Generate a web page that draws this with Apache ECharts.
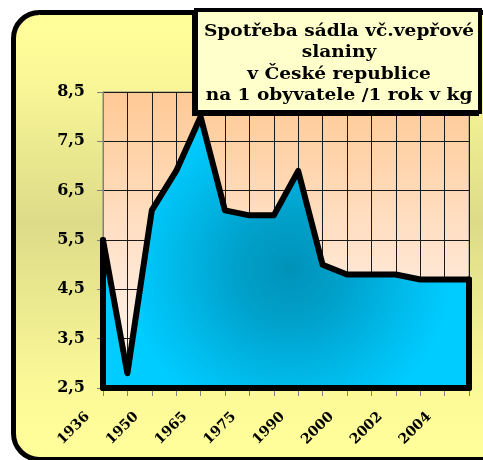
<!DOCTYPE html>
<html>
<head>
<meta charset="utf-8">
<script src="https://cdn.jsdelivr.net/npm/echarts@6/dist/echarts.min.js"></script>
<style>
html,body{margin:0;padding:0;background:#fff;}
#c{width:483px;height:460px;}
</style>
</head>
<body>
<div id="c"></div>
<script>
var categories = ['1936','1945','1950','1960','1965','1970','1975','1985','1990','1995','2000','2001','2002','2003','2004','2005'];
var values = [5.5, 2.8, 6.1, 6.9, 8.0, 6.1, 6.0, 6.0, 6.9, 5.0, 4.8, 4.8, 4.8, 4.7, 4.7, 4.7];
var yMin = 2.5, yMax = 8.5, yStep = 1;
var titleLines = ['Spotřeba sádla vč.vepřové', 'slaniny', 'v České republice', 'na 1 obyvatele /1 rok v kg'];

var chart = echarts.init(document.getElementById('c'), null, {renderer:'canvas'});
var serif = '"DejaVu Serif", "Liberation Serif", serif';
var last = categories.length - 1;

var option = {
  animation: false,
  backgroundColor: '#ffffff',
  graphic: [
    {
      type: 'rect', z: -10, silent: true,
      shape: {x: 13.5, y: 12.5, width: 560, height: 447, r: 26},
      style: {
        fill: new echarts.graphic.LinearGradient(0, 0, 0, 1, [
          {offset: 0, color: '#FFFF9A'},
          {offset: 0.12, color: '#FCFA98'},
          {offset: 0.47, color: '#DDDB88'},
          {offset: 0.85, color: '#FCFA98'},
          {offset: 1, color: '#FFFF9A'}
        ]),
        stroke: '#000', lineWidth: 5
      }
    },
    {
      type: 'rect', z: 100, silent: true,
      shape: {x: 192, y: 13, width: 287, height: 103},
      style: {fill: '#000'}
    },
    {
      type: 'rect', z: 101, silent: true,
      shape: {x: 196, y: 10, width: 284, height: 102},
      style: {fill: '#FFFFCC', stroke: '#000', lineWidth: 4}
    },
    {
      type: 'text', z: 102, silent: true,
      scaleX: 1.16, originX: 339, originY: 64,
      style: {
        text: titleLines.join('\n'),
        x: 339, y: 64,
        align: 'center', verticalAlign: 'middle',
        lineHeight: 21.5,
        font: 'bold 16px ' + serif,
        fill: '#000'
      }
    }
  ],
  grid: {
    left: 103, right: 14, top: 92, bottom: 72,
    show: true,
    borderColor: '#808080', borderWidth: 1,
    backgroundColor: new echarts.graphic.LinearGradient(0, 0, 0, 1, [
      {offset: 0, color: '#FFC994'},
      {offset: 0.6, color: '#FFE6D2'},
      {offset: 1, color: '#FFF8F2'}
    ])
  },
  xAxis: {
    type: 'category',
    data: categories,
    boundaryGap: false,
    axisLine: {show: false},
    axisTick: {show: true, interval: 0, length: 8, lineStyle: {color: '#808080', width: 1}},
    axisLabel: {
      interval: 1, rotate: 45, margin: 11,
      padding: [0, 22, 0, 0],
      fontFamily: serif, fontWeight: 'bold', fontSize: 14, color: '#000'
    },
    splitLine: {show: true, interval: 0, lineStyle: {color: '#1a1a1a', width: 1}}
  },
  yAxis: {
    type: 'value',
    min: yMin, max: yMax, interval: yStep,
    axisLine: {show: true, lineStyle: {color: '#808080', width: 1}},
    axisTick: {show: true, length: 6, lineStyle: {color: '#808080', width: 1}},
    axisLabel: {
      margin: 18,
      fontFamily: serif, fontWeight: 'bold', fontSize: 16, color: '#000',
      formatter: function (v) { return v.toFixed(1).replace('.', ','); }
    },
    splitLine: {show: true, lineStyle: {color: '#1a1a1a', width: 1}}
  },
  series: [{
    type: 'line',
    data: values,
    symbol: 'none',
    clip: false,
    lineStyle: {color: '#000', width: 6, join: 'round', cap: 'round'},
    areaStyle: {
      origin: 'start',
      opacity: 1,
      color: new echarts.graphic.RadialGradient(0.51, 0.56, 0.6, [
        {offset: 0, color: '#0092B8'},
        {offset: 0.35, color: '#00A2CC'},
        {offset: 0.75, color: '#00BDEE'},
        {offset: 1, color: '#00CCFF'}
      ])
    },
    markLine: {
      silent: true,
      symbol: ['none', 'none'],
      label: {show: false},
      lineStyle: {color: '#000', width: 6, type: 'solid', cap: 'round'},
      data: [
        [{coord: [categories[0], yMin]}, {coord: [categories[0], values[0]]}],
        [{coord: [categories[0], yMin]}, {coord: [categories[last], yMin]}],
        [{coord: [categories[last], yMin]}, {coord: [categories[last], values[last]]}]
      ]
    }
  }]
};
chart.setOption(option);
</script>
</body>
</html>
